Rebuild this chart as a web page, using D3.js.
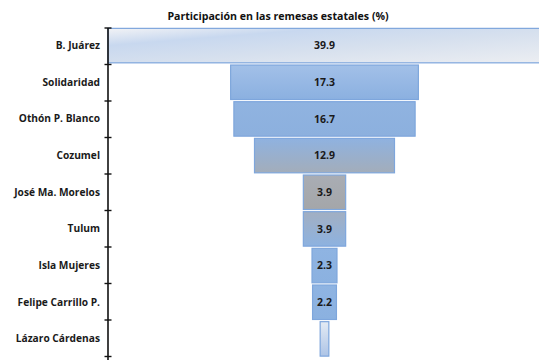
<!DOCTYPE html>
<html>
<head>
<meta charset="utf-8">
<script src="https://cdn.jsdelivr.net/npm/d3@7"></script>
<style>
  html, body { margin: 0; padding: 0; background: #fff; }
  svg { display: block; font-family: "Open Sans", Lato, sans-serif; }
</style>
</head>
<body>
<svg id="chart" width="539" height="360"></svg>
<script>
const title = "Participación en las remesas estatales (%)";
const categories = ["B. Juárez", "Solidaridad", "Othón P. Blanco", "Cozumel", "José Ma. Morelos", "Tulum", "Isla Mujeres", "Felipe Carrillo P.", "Lázaro Cárdenas"];
const values = [39.9, 17.3, 16.7, 12.9, 3.9, 3.9, 2.3, 2.2, 0.8];
const showLabel = [true, true, true, true, true, true, true, true, false];

// fill styles (top colour, bottom colour) per bar
const fillTop =    ["#eef0f4", "#a2c0e8", "#90b3e0", "#8fb2e0", "#a9adb4", "#a2afc2", "#8fb4e2", "#8fb4e2", "#e4ebf4"];
const fillBottom = ["#c4d5ee", "#8bb0e0", "#8cb0de", "#a3adba", "#a4a6a9", "#8db2e0", "#8bb1e0", "#8bb1e0", "#adc4e6"];

const svg = d3.select("#chart");
const margin = {left: 108, top: 28, right: 0};

const maxV = d3.max(values);
const x = d3.scaleLinear().domain([-maxV / 2, maxV / 2]).range([margin.left, 541]);
const y = d3.scaleBand().domain(categories).range([28, 28 + 36.5 * categories.length]).paddingInner(0.06).paddingOuter(0.01);

const defs = svg.append("defs");
categories.forEach((c, i) => {
  if (i === 0) {
    const g = defs.append("linearGradient").attr("id", "g0")
      .attr("x1", "0").attr("y1", "0").attr("x2", "1").attr("y2", "1");
    g.append("stop").attr("offset", "0%").attr("stop-color", "#f2f3f6");
    g.append("stop").attr("offset", "25%").attr("stop-color", "#c8d8ef");
    g.append("stop").attr("offset", "55%").attr("stop-color", "#d6e0ee");
    g.append("stop").attr("offset", "100%").attr("stop-color", "#eceef2");
  } else {
    const g = defs.append("linearGradient").attr("id", "g" + i)
      .attr("x1", "0").attr("y1", "0").attr("x2", "0").attr("y2", "1");
    g.append("stop").attr("offset", "0%").attr("stop-color", fillTop[i]);
    g.append("stop").attr("offset", "100%").attr("stop-color", fillBottom[i]);
  }
});

// title
svg.append("text")
  .attr("x", 278).attr("y", 20)
  .attr("text-anchor", "middle")
  .attr("font-size", 10.6).attr("font-weight", "bold").attr("fill", "#111")
  .text(title);

// bars
const bars = svg.append("g");
bars.selectAll("rect").data(values).join("rect")
  .attr("x", d => x(-d / 2))
  .attr("y", (d, i) => y(categories[i]))
  .attr("width", d => x(d / 2) - x(-d / 2))
  .attr("height", y.bandwidth())
  .attr("fill", (d, i) => `url(#g${i})`)
  .attr("stroke", "#7ea6dc")
  .attr("stroke-width", 1.2);

// value labels
bars.selectAll("text").data(values).join("text")
  .attr("x", x(0))
  .attr("y", (d, i) => y(categories[i]) + y.bandwidth() / 2)
  .attr("dy", "0.35em")
  .attr("text-anchor", "middle")
  .attr("font-size", 10.5).attr("font-weight", "bold").attr("fill", "#1a1a1a")
  .text((d, i) => showLabel[i] ? d3.format(".1f")(d) : "");

// axis
const tickYs = d3.range(categories.length + 1).map(i => 28 + 36.5 * i);
const ax = svg.append("g");
ax.append("line").attr("x1", margin.left).attr("x2", margin.left)
  .attr("y1", 28).attr("y2", 360).attr("stroke", "#111").attr("stroke-width", 1.6);
ax.selectAll("line.tick").data(tickYs).join("line").attr("class", "tick")
  .attr("x1", margin.left - 3.5).attr("x2", margin.left + 3.5)
  .attr("y1", d => d).attr("y2", d => d)
  .attr("stroke", "#111").attr("stroke-width", 1.4);

ax.selectAll("text").data(categories).join("text")
  .attr("x", 100)
  .attr("y", d => y(d) + y.bandwidth() / 2)
  .attr("dy", "0.35em")
  .attr("text-anchor", "end")
  .attr("font-size", 10.2).attr("font-weight", "bold").attr("fill", "#1a1a1a")
  .text(d => d);
</script>
</body>
</html>
